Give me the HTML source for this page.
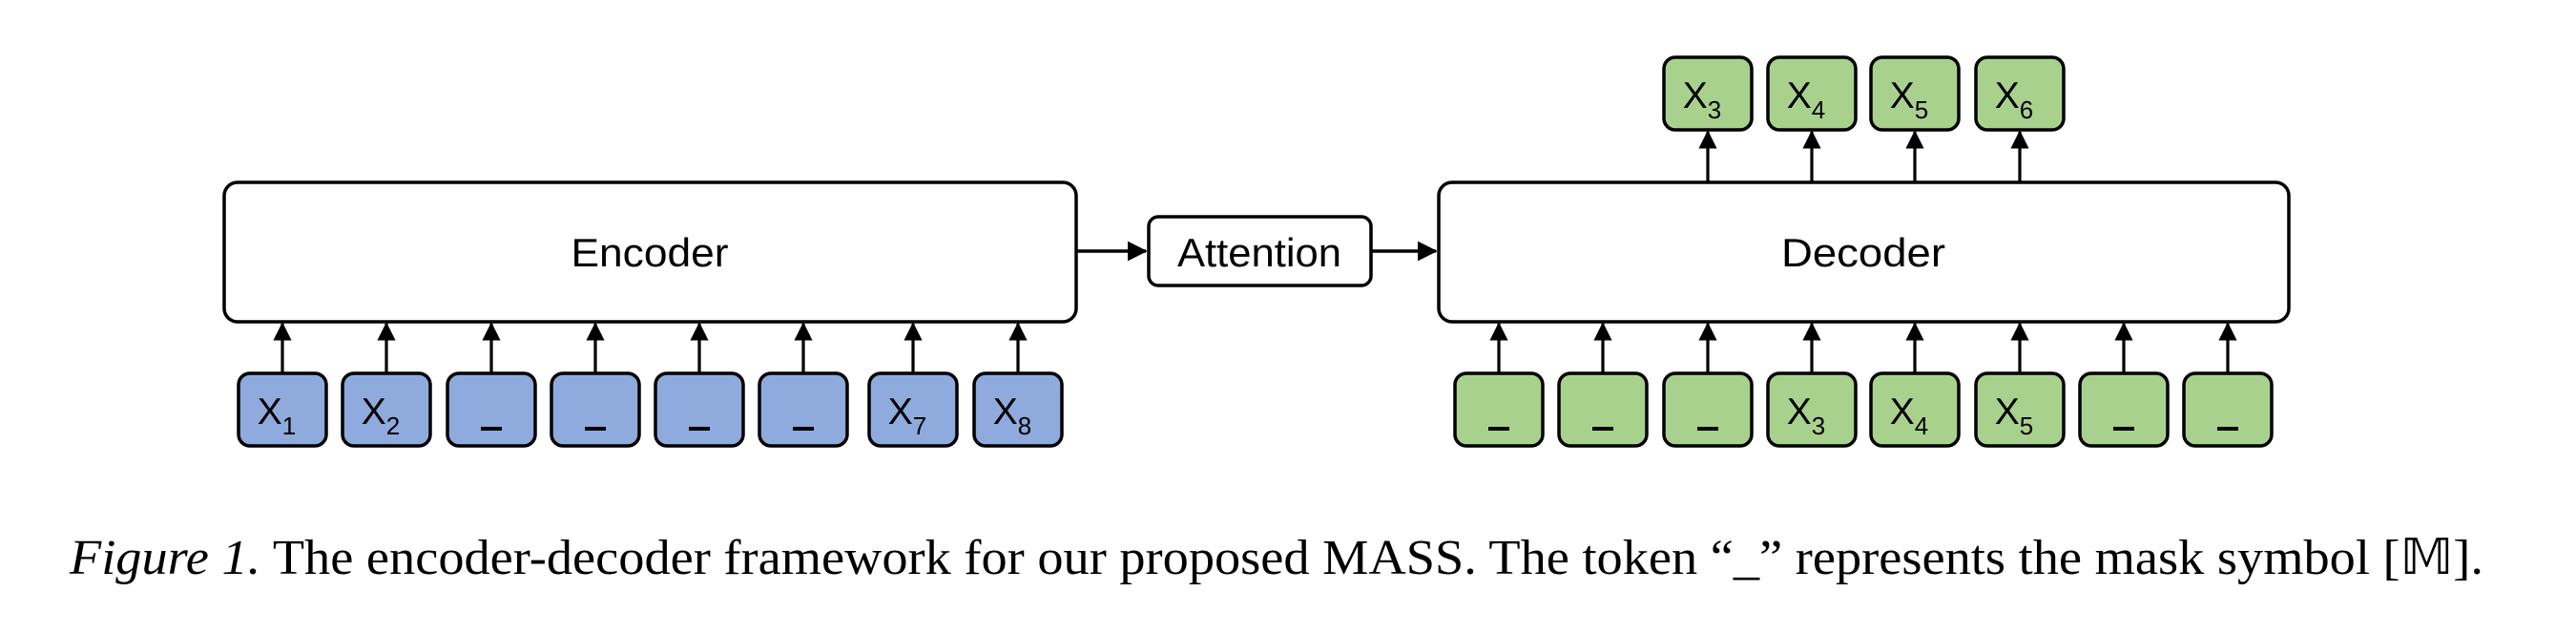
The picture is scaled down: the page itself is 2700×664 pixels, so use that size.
<!DOCTYPE html>
<html><head><meta charset="utf-8"><style>
html,body{margin:0;padding:0;background:#fff;}
svg{display:block;}
</style></head><body>
<svg width="2700" height="664" viewBox="0 0 2700 664" xmlns="http://www.w3.org/2000/svg">
<defs>
<marker id="ah" markerWidth="6" markerHeight="6" refX="5.5" refY="3" orient="auto" markerUnits="strokeWidth">
<path d="M0,0 L6,3 L0,6 z" fill="#000"/>
</marker>
</defs>
<g stroke="#000" stroke-width="3.5" fill="#fff">
<rect x="235" y="191" width="893" height="146" rx="14"/>
<rect x="1204" y="227" width="233" height="72" rx="10"/>
<rect x="1508" y="191" width="891" height="146" rx="14"/>
</g>
<g stroke="#000" stroke-width="3.5" fill="none">
<line x1="1128" y1="263" x2="1201" y2="263" marker-end="url(#ah)"/>
<line x1="1437" y1="263" x2="1505" y2="263" marker-end="url(#ah)"/>
</g>
<g font-family="Liberation Sans, sans-serif" font-size="42" text-anchor="middle" fill="#000">
<text x="681" y="279" textLength="165" lengthAdjust="spacingAndGlyphs">Encoder</text>
<text x="1320" y="279" textLength="172" lengthAdjust="spacingAndGlyphs">Attention</text>
<text x="1953" y="279" textLength="172" lengthAdjust="spacingAndGlyphs">Decoder</text>
</g>
<script>
(function(){
var svg=document.querySelector('svg');var NS='http://www.w3.org/2000/svg';
function el(n,a,p){var e=document.createElementNS(NS,n);for(var k in a)e.setAttribute(k,a[k]);(p||svg).appendChild(e);return e;}
function tok(x,y,fill,sub){
 el('rect',{x:x,y:y,width:92,height:76,rx:12,fill:fill,stroke:'#000','stroke-width':3.5});
 var cx=x+46;
 if(sub){
  var t=el('text',{x:cx-6,y:y+53,'font-family':'Liberation Sans, sans-serif','font-size':39,'text-anchor':'middle',fill:'#000'});
  var a=document.createElementNS(NS,'tspan');a.textContent='X';t.appendChild(a);
  var b=document.createElementNS(NS,'tspan');b.textContent=sub;b.setAttribute('font-size','26');b.setAttribute('dy','11');t.appendChild(b);
 } else {
  el('rect',{x:cx-11,y:y+56,width:22,height:4,fill:'#000'});
 }
}
function arrow(x,y1,y2){el('line',{x1:x,y1:y1,x2:x,y2:y2+2,stroke:'#000','stroke-width':3.2,'marker-end':'url(#ah)'});}
var enc=[250,359,469,578,687,796,911,1021];var es=['1','2','','','','','7','8'];
for(var i=0;i<8;i++){tok(enc[i],391,'#8FAADC',es[i]);arrow(enc[i]+46,391,337);}
var dec=[1525,1634,1744,1853,1961,2071,2180,2289];var ds=['','','','3','4','5','',''];
for(var i=0;i<8;i++){tok(dec[i],391,'#A9D18E',ds[i]);arrow(dec[i]+46,391,337);}
var os=['3','4','5','6'];
for(var i=0;i<4;i++){tok(dec[i+2],60,'#A9D18E',os[i]);arrow(dec[i+2]+46,191,136);}
})();
</script>
<text x="73" y="601" font-family="Liberation Serif, serif" font-size="52" fill="#000" textLength="2530" lengthAdjust="spacingAndGlyphs"><tspan font-style="italic">Figure 1.</tspan> The encoder-decoder framework for our proposed MASS. The token “_” represents the mask symbol [𝕄].</text>
</svg>
</body></html>
